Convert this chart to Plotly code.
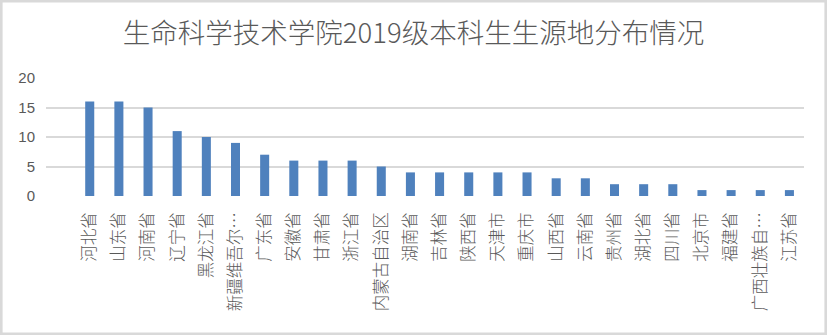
import plotly.graph_objects as go

# Student origin by province, 2019 undergraduate intake
provinces = [
    "河北省", "山东省", "河南省", "辽宁省", "黑龙江省", "新疆维吾尔…", "广东省",
    "安徽省", "甘肃省", "浙江省", "内蒙古自治区", "湖南省", "吉林省", "陕西省",
    "天津市", "重庆市", "山西省", "云南省", "贵州省", "湖北省", "四川省",
    "北京市", "福建省", "广西壮族自…", "江苏省",
]
students = [16, 16, 15, 11, 10, 9, 7, 6, 6, 6, 5, 4, 4, 4, 4, 4, 3, 3, 2, 2, 2, 1, 1, 1, 1]
y_ticks = [0, 5, 10, 15, 20]

title_text = "生命科学技术学院2019级本科生生源地分布情况"

W, H = 827, 335
ML, MR, MT, MB = 46, 23, 78, 139
PW, PH = W - ML - MR, H - MT - MB

GRID = "#D9D9D9"
TEXT = "#595959"
BAR = "#4F81BD"
CJK = "Noto Sans CJK SC"

positions = list(range(len(provinces)))

fig = go.Figure(
    go.Bar(
        x=positions,
        y=students,
        marker=dict(color=BAR, line=dict(width=0)),
        width=0.31,
        hoverinfo="x+y",
    )
)


def px_x(p):
    return (p - ML) / PW


def px_y(q):
    return (H - MB - q) / PH


# light frame around the whole chart
inset = 1.3
fig.add_shape(
    type="rect", xref="paper", yref="paper",
    x0=px_x(inset), x1=px_x(W - inset), y0=px_y(H - inset), y1=px_y(inset),
    line=dict(color=GRID, width=2.6), fillcolor="rgba(0,0,0,0)", layer="below",
)

fig.update_layout(
    width=W, height=H,
    margin=dict(l=ML, r=MR, t=MT, b=MB, pad=0),
    paper_bgcolor="white", plot_bgcolor="white",
    showlegend=False,
    title=dict(
        text=title_text,
        x=0.5, xref="container", xanchor="center",
        y=1 - 33 / H, yref="container", yanchor="middle",
        font=dict(family=CJK, size=27.5, color=TEXT, weight=300),
    ),
    xaxis=dict(
        range=[-1.5, len(provinces) - 0.5],
        tickmode="array", tickvals=positions, ticktext=provinces,
        tickangle=-90,
        tickfont=dict(family=CJK, size=16.5, color=TEXT, weight=300),
        ticks="", showgrid=False, showline=False, zeroline=False,
        ticklabelstandoff=12,
    ),
    yaxis=dict(
        range=[0, 20],
        tickmode="array", tickvals=y_ticks, ticktext=[str(v) for v in y_ticks],
        tickfont=dict(family="Liberation Sans", size=15, color=TEXT),
        ticks="", showline=False, zeroline=False,
        showgrid=True, gridcolor=GRID, gridwidth=1.6,
        ticklabelstandoff=10,
    ),
)

fig.write_html("out.html")
